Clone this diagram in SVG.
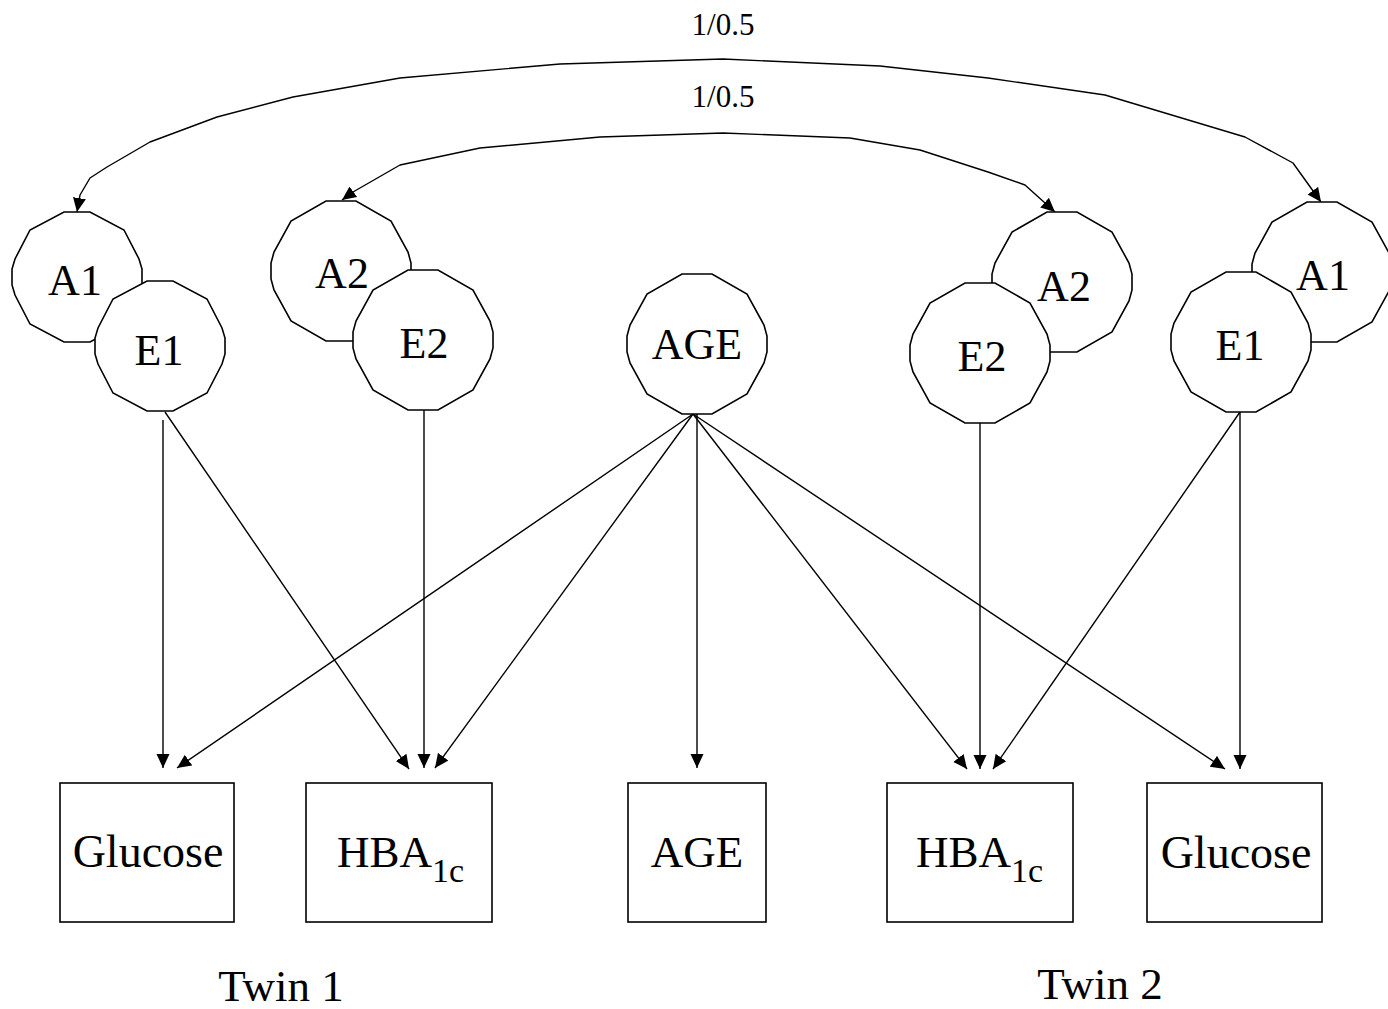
<svg xmlns="http://www.w3.org/2000/svg" xmlns:xlink="http://www.w3.org/1999/xlink" width="1388" height="1009" viewBox="0 0 1388 1009">
<style>
.bg{fill:#fff}
.lat{fill:#fff;stroke:#000;stroke-width:1.6;stroke-linejoin:miter}
.box{fill:#fff;stroke:#000;stroke-width:1.6}
.lbl{font-family:"Liberation Serif","Times New Roman",serif;font-size:44px;fill:#000;text-anchor:middle}
.sub{font-size:34px}
.cap{font-family:"Liberation Serif","Times New Roman",serif;font-size:45px;fill:#000;text-anchor:middle}
.num{font-family:"Liberation Serif","Times New Roman",serif;font-size:31px;fill:#000;text-anchor:middle}
.ln{fill:none;stroke:#000;stroke-width:1.4;stroke-linejoin:round}
</style>
<defs>
<marker id="ah" viewBox="0 -7 14 14" refX="14" refY="0" markerWidth="14" markerHeight="14" markerUnits="userSpaceOnUse" orient="auto-start-reverse">
<path d="M0,-6.5 L14,0 L0,6.5 z" fill="#000"/>
</marker>
<polygon id="p70" points="-15,-70 15,-70 50,-50 67,-19 70,-8 70,8 67,19 50,50 15,70 -15,70 -50,50 -67,19 -70,8 -70,-8 -67,-19 -50,-50"/>
<polygon id="p65" points="-13,-65 13,-65 47,-47 62,-18 65,-8 65,8 62,18 47,47 13,65 -13,65 -47,47 -62,18 -65,8 -65,-8 -62,-18 -47,-47"/>
</defs>
<rect class="bg" x="0" y="0" width="1388" height="1009"/>

<g id="connectors">
<polyline class="ln" marker-start="url(#ah)" marker-end="url(#ah)" points="77,212 80,195 90,178 107,167 150,142 217,117 293,97 400,78 560,64 723,59 880,66 988,78 1105,95 1245,137 1293,163 1321,202"/>
<polyline class="ln" marker-start="url(#ah)" marker-end="url(#ah)" points="342,200 353,192 400,165 480,148 600,137 723,133 850,138 920,150 988,172 1025,185 1055,212"/>
<line class="ln" x1="163" y1="420" x2="163" y2="768" marker-end="url(#ah)"/>
<line class="ln" x1="165" y1="412" x2="409" y2="769" marker-end="url(#ah)"/>
<line class="ln" x1="424" y1="410" x2="424" y2="768" marker-end="url(#ah)"/>
<line class="ln" x1="693" y1="414" x2="177" y2="768" marker-end="url(#ah)"/>
<line class="ln" x1="693" y1="414" x2="435" y2="768" marker-end="url(#ah)"/>
<line class="ln" x1="697" y1="414" x2="697" y2="768" marker-end="url(#ah)"/>
<line class="ln" x1="693" y1="414" x2="967" y2="769" marker-end="url(#ah)"/>
<line class="ln" x1="693" y1="414" x2="1225" y2="769" marker-end="url(#ah)"/>
<line class="ln" x1="980" y1="423" x2="980" y2="769" marker-end="url(#ah)"/>
<line class="ln" x1="1240" y1="412" x2="993" y2="769" marker-end="url(#ah)"/>
<line class="ln" x1="1240" y1="412" x2="1240" y2="769" marker-end="url(#ah)"/>
</g>

<g id="labels-corr">
<text class="num" x="723" y="35">1/0.5</text>
<text class="num" x="723" y="107">1/0.5</text>
</g>

<g id="A1-left"><use xlink:href="#p65" href="#p65" class="lat" transform="translate(77,277)"/><text class="lbl" x="75" y="295">A1</text></g>
<g id="E1-left"><use xlink:href="#p65" href="#p65" class="lat" transform="translate(160,346)"/><text class="lbl" x="159" y="365">E1</text></g>
<g id="A2-left"><use xlink:href="#p70" href="#p70" class="lat" transform="translate(341,271)"/><text class="lbl" x="342" y="288">A2</text></g>
<g id="E2-left"><use xlink:href="#p70" href="#p70" class="lat" transform="translate(423,340)"/><text class="lbl" x="424" y="358">E2</text></g>
<g id="AGE-latent"><use xlink:href="#p70" href="#p70" class="lat" transform="translate(697,344)"/><text class="lbl" x="697" y="359">AGE</text></g>
<g id="A2-right"><use xlink:href="#p70" href="#p70" class="lat" transform="translate(1062,282)"/><text class="lbl" x="1064" y="301">A2</text></g>
<g id="E2-right"><use xlink:href="#p70" href="#p70" class="lat" transform="translate(980,353)"/><text class="lbl" x="982" y="371">E2</text></g>
<g id="A1-right"><use xlink:href="#p70" href="#p70" class="lat" transform="translate(1322,272)"/><text class="lbl" x="1323" y="290">A1</text></g>
<g id="E1-right"><use xlink:href="#p70" href="#p70" class="lat" transform="translate(1241,342)"/><text class="lbl" x="1240" y="360">E1</text></g>

<g id="Glucose-1"><rect class="box" x="60" y="783" width="174" height="139"/><text class="lbl" x="148" y="867" style="font-size:46px">Glucose</text></g>
<g id="HBA1c-1"><rect class="box" x="306" y="783" width="186" height="139"/><text class="lbl" x="337" y="867" style="font-size:45px;text-anchor:start">HBA<tspan class="sub" dy="15">1c</tspan></text></g>
<g id="AGE-obs"><rect class="box" x="628" y="783" width="138" height="139"/><text class="lbl" x="697" y="867" style="font-size:45px">AGE</text></g>
<g id="HBA1c-2"><rect class="box" x="887" y="783" width="186" height="139"/><text class="lbl" x="916" y="867" style="font-size:45px;text-anchor:start">HBA<tspan class="sub" dy="15">1c</tspan></text></g>
<g id="Glucose-2"><rect class="box" x="1147" y="783" width="175" height="139"/><text class="lbl" x="1236" y="868" style="font-size:46px">Glucose</text></g>

<g id="captions">
<text class="cap" x="281" y="1001">Twin 1</text>
<text class="cap" x="1100" y="999">Twin 2</text>
</g>
</svg>
